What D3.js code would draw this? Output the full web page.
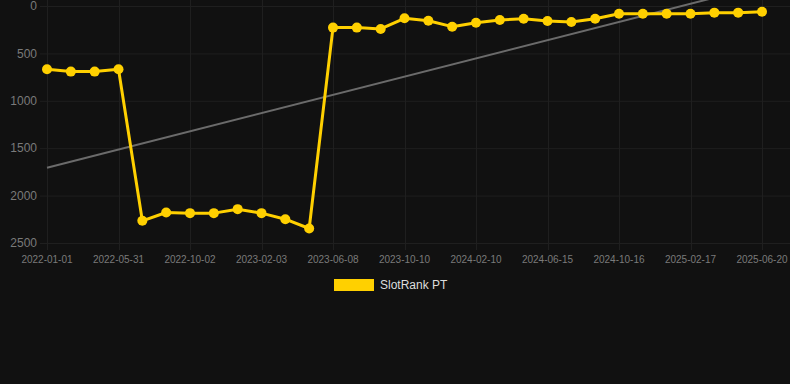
<!DOCTYPE html>
<html lang="en">
  <head>
    <meta charset="UTF-8" />
    <title>SlotRank PT</title>
    <script src="https://d3js.org/d3.v7.min.js"></script>
    <style>
      body {
        margin: 0;
        padding: 0;
        background: #111111;
        font-family: "Liberation Sans", Arial, sans-serif;
      }
      svg {
        display: block;
      }
      .grid line {
        stroke: #1f1f1f;
        stroke-width: 1;
      }
      .y-label {
        font-size: 12px;
        fill: #7a7a7a;
      }
      .x-label {
        font-size: 10px;
        fill: #7a7a7a;
      }
      .legend text {
        font-size: 12px;
        fill: #dddddd;
      }
    </style>
  </head>
  <body>
    <script>
      // Data (rank, lower is better)
      const dates = [
        "2022-01-01", "2022-02-20", "2022-04-11", "2022-05-31", "2022-07-11",
        "2022-08-21", "2022-10-02", "2022-11-12", "2022-12-24", "2023-02-03",
        "2023-03-17", "2023-04-28", "2023-06-08", "2023-07-19", "2023-08-30",
        "2023-10-10", "2023-11-20", "2023-12-31", "2024-02-10", "2024-03-22",
        "2024-05-04", "2024-06-15", "2024-07-26", "2024-09-05", "2024-10-16",
        "2024-11-26", "2025-01-07", "2025-02-17", "2025-03-30", "2025-05-10",
        "2025-06-20"
      ];
      const ranks = [
        667, 692, 692, 667, 2266, 2178, 2185, 2185, 2143, 2185, 2249, 2347,
        228, 228, 242, 130, 155, 218, 176, 148, 134, 158, 169, 134,
        81, 81, 81, 81, 70, 70, 60
      ];
      const yTicks = [0, 500, 1000, 1500, 2000, 2500];
      const seriesName = "SlotRank PT";

      const width = 790, height = 384;
      const margin = { top: 6, right: 28, bottom: 141, left: 47 };
      const lineColor = "#ffd000";

      const svg = d3.select("body").append("svg")
        .attr("width", width)
        .attr("height", height);

      const x = d3.scalePoint()
        .domain(d3.range(dates.length))
        .range([margin.left, width - margin.right]);

      const y = d3.scaleLinear()
        .domain([0, 2500])
        .range([margin.top, height - margin.bottom]);

      // Grid
      const grid = svg.append("g").attr("class", "grid");
      grid.selectAll(".h")
        .data(yTicks)
        .enter().append("line")
        .attr("x1", margin.left - 7)
        .attr("x2", width)
        .attr("y1", d => y(d) + 0.5)
        .attr("y2", d => y(d) + 0.5);

      const labelIdx = d3.range(0, dates.length, 3);
      grid.selectAll(".v")
        .data(labelIdx)
        .enter().append("line")
        .attr("x1", d => Math.round(x(d)) + 0.5)
        .attr("x2", d => Math.round(x(d)) + 0.5)
        .attr("y1", 0)
        .attr("y2", y(2500) + 7);

      // Axis labels
      svg.append("g").selectAll("text")
        .data(yTicks)
        .enter().append("text")
        .attr("class", "y-label")
        .attr("x", 37)
        .attr("y", d => y(d))
        .attr("dy", "0.35em")
        .attr("text-anchor", "end")
        .text(d => d);

      svg.append("g").selectAll("text")
        .data(labelIdx)
        .enter().append("text")
        .attr("class", "x-label")
        .attr("x", d => x(d))
        .attr("y", y(2500) + 20)
        .attr("text-anchor", "middle")
        .text(d => dates[d]);

      // Trend line (least squares over the series)
      const n = ranks.length;
      const mx = d3.mean(d3.range(n));
      const my = d3.mean(ranks);
      const slope = d3.sum(ranks, (v, i) => (i - mx) * (v - my)) /
                    d3.sum(d3.range(n), i => (i - mx) * (i - mx));
      const intercept = my - slope * mx;

      svg.append("clipPath").attr("id", "plot-clip")
        .append("rect")
        .attr("x", 0).attr("y", 0)
        .attr("width", width).attr("height", y(2500));

      svg.append("line")
        .attr("clip-path", "url(#plot-clip)")
        .attr("x1", x(0))
        .attr("y1", y(intercept))
        .attr("x2", x(n - 1))
        .attr("y2", y(intercept + slope * (n - 1)))
        .attr("stroke", "#6b6b6b")
        .attr("stroke-width", 2);

      // Series line
      const line = d3.line()
        .x((d, i) => x(i))
        .y(d => y(d));

      svg.append("path")
        .datum(ranks)
        .attr("d", line)
        .attr("fill", "none")
        .attr("stroke", lineColor)
        .attr("stroke-width", 3)
        .attr("stroke-linejoin", "round");

      svg.append("g").selectAll("circle")
        .data(ranks)
        .enter().append("circle")
        .attr("cx", (d, i) => x(i))
        .attr("cy", d => y(d))
        .attr("r", 5)
        .attr("fill", lineColor);

      // Legend
      const legend = svg.append("g").attr("class", "legend");
      legend.append("rect")
        .attr("x", 334)
        .attr("y", 279)
        .attr("width", 40)
        .attr("height", 12)
        .attr("fill", lineColor);
      legend.append("text")
        .attr("x", 380)
        .attr("y", 285)
        .attr("dy", "0.35em")
        .text(seriesName);
    </script>
  </body>
</html>
